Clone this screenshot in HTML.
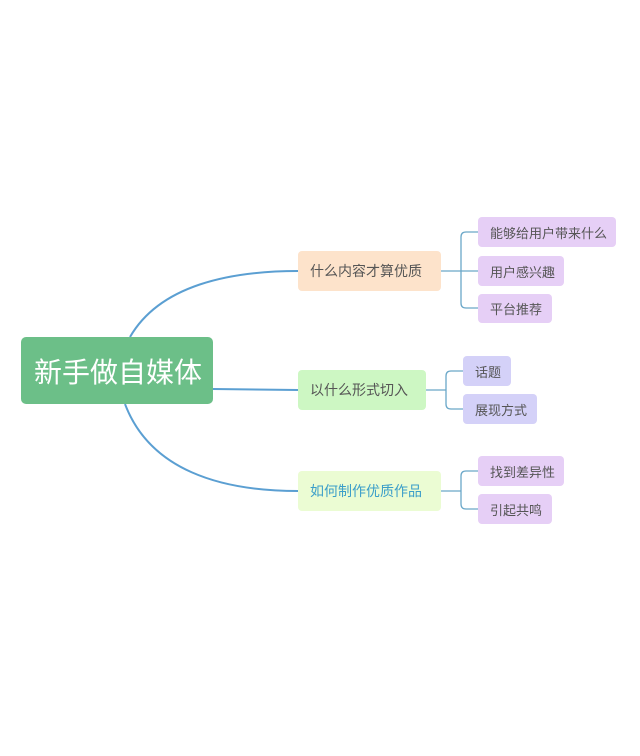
<!DOCTYPE html>
<html><head><meta charset="utf-8"><style>
body{margin:0;width:640px;height:756px;background:#fff;position:relative;overflow:hidden;font-family:"Liberation Sans","Noto Sans CJK SC",sans-serif}
.n{position:absolute;box-sizing:border-box;border-radius:4px;display:flex;align-items:center;color:#555;font-size:13px;padding-left:12px}
</style></head><body>
<svg width="640" height="756" style="position:absolute;left:0;top:0" fill="none" stroke="#5b9fd2" stroke-width="2">
<path d="M130 337 C160 285 230 271 298 271"/>
<path d="M213 389 L298 390"/>
<path d="M125 404 C150 470 220 491 298 491"/>
<g stroke="#6aa7c8" stroke-width="1.3">
<path d="M441 271 H461"/>
<path d="M478 232 H466 Q461 232 461 237 V303 Q461 308 466 308 H478"/>
<path d="M461 271 H478"/>
<path d="M426 390 H446"/>
<path d="M463 371 H451 Q446 371 446 376 V404 Q446 409 451 409 H463"/>
<path d="M441 491 H461"/>
<path d="M478 471 H466 Q461 471 461 476 V504 Q461 509 466 509 H478"/>
</g>
</svg>
<div class="n" style="left:21px;top:337px;width:192px;height:67px;background:#6cbf88;color:#fff;font-size:28px;padding-left:13px;border-radius:5px">新手做自媒体</div>
<div class="n" style="left:298px;top:251px;width:143px;height:40px;background:#fde3cb;font-size:14px">什么内容才算优质</div>
<div class="n" style="left:298px;top:370px;width:128px;height:40px;background:#cdf7c3;font-size:14px">以什么形式切入</div>
<div class="n" style="left:298px;top:471px;width:143px;height:40px;background:#ebfcd3;font-size:14px;color:#3b9ec9">如何制作优质作品</div>
<div class="n" style="left:478px;top:217px;width:138px;height:30px;background:#e6cff6">能够给用户带来什么</div>
<div class="n" style="left:478px;top:256px;width:86px;height:30px;background:#e6cff6">用户感兴趣</div>
<div class="n" style="left:478px;top:294px;width:74px;height:29px;background:#e6cff6">平台推荐</div>
<div class="n" style="left:463px;top:356px;width:48px;height:30px;background:#d4d1f8">话题</div>
<div class="n" style="left:463px;top:394px;width:74px;height:30px;background:#d4d1f8">展现方式</div>
<div class="n" style="left:478px;top:456px;width:86px;height:30px;background:#e6cff6">找到差异性</div>
<div class="n" style="left:478px;top:494px;width:74px;height:30px;background:#e6cff6">引起共鸣</div>
</body></html>
